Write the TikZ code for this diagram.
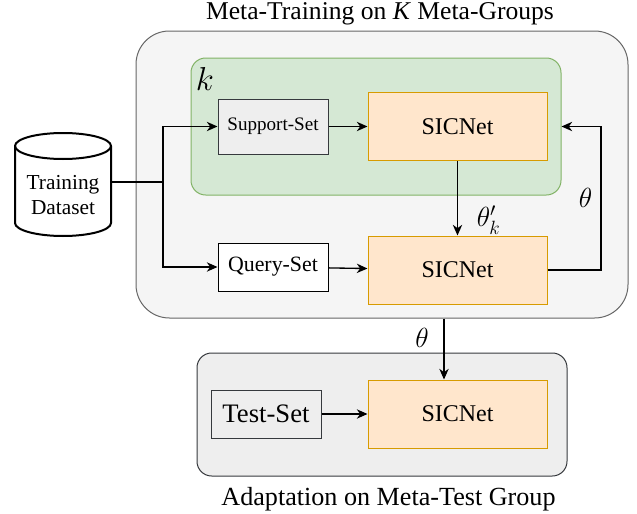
\documentclass[tikz,border=0pt]{standalone}
\usepackage{fontspec}
\setmainfont{Liberation Serif}
\usepackage{amsmath}
\usepackage{tikz}
\usetikzlibrary{arrows.meta, positioning, shapes.geometric}

\definecolor{grpfill}{HTML}{F5F5F5}
\definecolor{grpline}{HTML}{666666}
\definecolor{taskfill}{HTML}{D5E8D4}
\definecolor{taskline}{HTML}{82B366}
\definecolor{netfill}{HTML}{FFE6CC}
\definecolor{netline}{HTML}{D79B00}
\definecolor{setfill}{HTML}{EEEEEE}
\definecolor{setline}{HTML}{36393D}

\begin{document}
\begin{tikzpicture}[x=0.75pt, y=-0.75pt,
    grpbox/.style={draw=grpline, fill=grpfill, line width=0.75pt, rounded corners=25pt},
    taskbox/.style={draw=taskline, fill=taskfill, line width=0.75pt, rounded corners=11pt},
    adaptbox/.style={draw=setline, fill=setfill, line width=0.75pt, rounded corners=11pt},
    netbox/.style={draw=netline, fill=netfill, line width=0.75pt, font=\fontsize{18}{20}\selectfont,
        minimum width=179*0.75pt, minimum height=68*0.75pt},
    setbox/.style={draw=setline, line width=0.75pt, minimum width=110*0.75pt},
    arr/.style={-{Stealth[length=8pt, width=7pt, inset=2.5pt]}, line width=1pt},
    symb/.style={font=\fontsize{21}{24}\selectfont, inner sep=0pt}]
    \useasboundingbox (0,0) rectangle (637,514);

    % 元训练外框与标题
    \node[grpbox, minimum width=492*0.75pt, minimum height=287*0.75pt] (train) at (382,174.5) {};
    \node[anchor=base, font=\fontsize{19.2}{22}\selectfont] (ttl) at (380,19) {Meta-Training on \textit{K} Meta-Groups};

    % 第 k 个元组
    \node[taskbox, minimum width=370*0.75pt, minimum height=137*0.75pt] (grp) at (376,126.5) {};
    \node[font=\fontsize{24}{26}\selectfont, inner sep=0pt] (klab) at (205,79) {$k$};

    % 数据库圆柱
    \filldraw[fill=white, line width=1.5pt] (15,146) -- (15,223) arc[start angle=180, end angle=0, x radius=48, y radius=13]
        -- (111,146) arc[start angle=0, end angle=-180, x radius=48, y radius=13] -- cycle;
    \draw[line width=1.5pt] (15,146) arc[start angle=180, end angle=0, x radius=48, y radius=13];
    \node[align=center, font=\fontsize{16}{19}\selectfont, inner sep=0pt, minimum width=96*0.75pt] (db) at (63,195) {Training\\Dataset};

    % 数据与网络
    \node[setbox, fill=setfill, minimum height=55*0.75pt, font=\fontsize{14.3}{16}\selectfont] (sset) at (273,126.5) {Support-Set};
    \node[netbox] (sictop) at (457.5,126.5) {SICNet};
    \node[setbox, fill=white, draw=black, minimum height=48*0.75pt, font=\fontsize{16.4}{18}\selectfont] (qset) at (273,267) {Query-Set};
    \node[netbox] (sicmid) at (457.5,270) {SICNet};

    % 自适应框
    \node[adaptbox, minimum width=370*0.75pt, minimum height=123*0.75pt] (adapt) at (382,414.5) {};
    \node[anchor=base, font=\fontsize{19.6}{22}\selectfont] (cap) at (388.5,505) {Adaptation on Meta-Test Group};
    \node[setbox, fill=setfill, minimum height=48*0.75pt, font=\fontsize{20}{22}\selectfont] (tset) at (266,414) {Test-Set};
    \node[netbox] (sicbot) at (457.5,414) {SICNet};

    % 连线
    \coordinate (jn) at (163,182);
    \coordinate (loop) at (601,0);
    \coordinate (down) at (444,0);
    \draw[line width=1pt] (db.east |- jn) -- (jn);
    \draw[arr] (jn) |- (sset);
    \draw[arr] (jn) |- (qset);
    \draw[arr] (sset) -- (sictop);
    \draw[arr] (qset) -- (sicmid);
    \draw[arr] (sictop) -- (sicmid) node[symb, pos=0.79, right=14pt] (thk) {$\theta'_k$};
    \draw[arr] (sicmid.east) -| (loop |- sicmid) |- (grp.east |- sictop)
        node[symb, pos=0.25, left=6pt] (thr) {$\theta$};
    \draw[arr] (train.south -| down) -- (sicbot.north -| down)
        node[symb, pos=0.32, left=11pt] (thb) {$\theta$};
    \draw[arr] (tset) -- (sicbot);
\end{tikzpicture}
\end{document}
